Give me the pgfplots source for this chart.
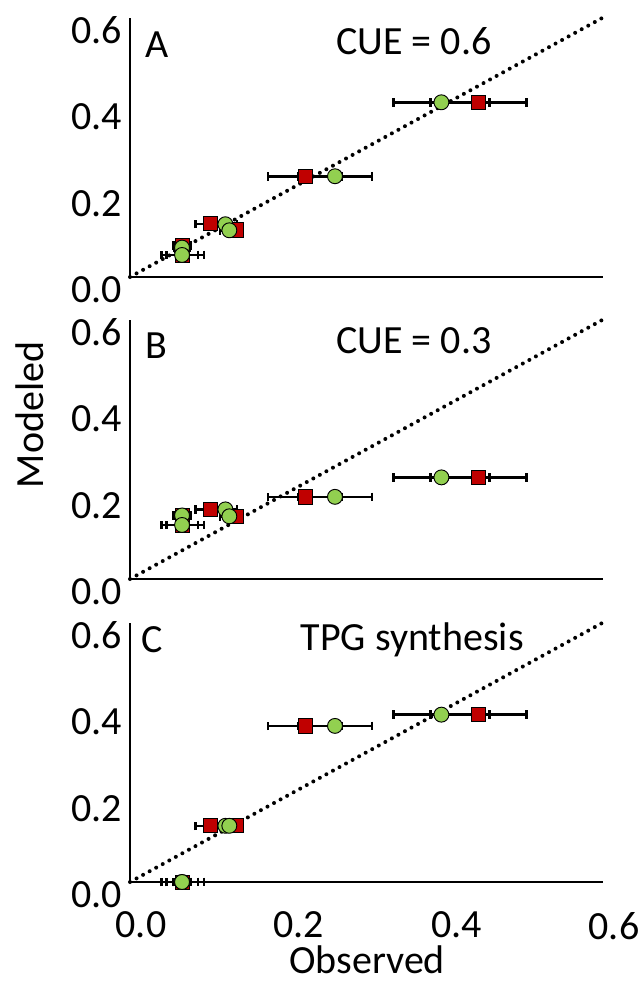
\documentclass[border=0pt]{standalone}
\usepackage{fontspec}
\setmainfont{Carlito}
\usepackage{pgfplots}
\usepackage{pgfplotstable}
\pgfplotsset{compat=1.18}
\definecolor{mred}{HTML}{C00000}
\definecolor{mgreen}{HTML}{92D050}
\newcommand{\bigfont}{\fontsize{30}{36}\selectfont}

% site: red obs (x, err), red modeled y, green obs (x, err), green modeled y
\pgfplotstableread{
xr    exr   yr    xg    exg   yg
0.442 0.061 0.404 0.395 0.061 0.404
0.222 0.047 0.233 0.260 0.047 0.233
0.102 0.019 0.123 0.121 0.015 0.122
0.135 0.008 0.109 0.126 0.012 0.108
0.066 0.011 0.073 0.066 0.010 0.068
0.067 0.027 0.051 0.066 0.020 0.051
}\dataA
\pgfplotstableread{
xr    exr   yr    xg    exg   yg
0.442 0.061 0.235 0.395 0.061 0.235
0.222 0.047 0.190 0.260 0.047 0.190
0.102 0.019 0.161 0.121 0.015 0.161
0.135 0.008 0.145 0.126 0.012 0.145
0.066 0.011 0.147 0.066 0.010 0.147
0.067 0.027 0.125 0.066 0.020 0.125
}\dataB
\pgfplotstableread{
xr    exr   yr    xg    exg   yg
0.442 0.061 0.387 0.395 0.061 0.387
0.222 0.047 0.361 0.260 0.047 0.361
0.102 0.019 0.130 0.121 0.015 0.130
0.135 0.008 0.130 0.126 0.012 0.130
0.066 0.011 0.000 0.066 0.010 0.000
0.067 0.027 0.000 0.066 0.020 0.000
}\dataC

\pgfplotsset{
  panel/.style={
    scale only axis, width=354.75pt, height=194.6pt,
    xmin=0, xmax=0.6, ymin=0, ymax=0.6,
    axis lines=left, axis line style={-, line width=2pt},
    clip=false, major tick length=0,
    ytick={0,0.2,0.4,0.6},
    ticklabel style={font=\bigfont, inner sep=0pt},
    yticklabel style={anchor=east, xshift=-6pt, yshift=-9.5pt},
    xticklabel style={anchor=north, xshift=8.25pt, yshift=-22.3pt},
    /pgf/number format/.cd, fixed, fixed zerofill, precision=1, assume math mode=true,
  },
  ebar/.style={only marks, mark=none,
    error bars/.cd, x dir=both, x explicit, error mark=|,
    error bar style={line width=1.9pt, black},
    error mark options={black, line width=1.9pt, mark size=3.2pt}},
  redmark/.style={only marks, mark=square*, mark size=5.3pt,
    mark options={fill=mred, draw=black, line width=0.6pt}},
  greenmark/.style={only marks, mark=*, mark size=5.6pt,
    mark options={fill=mgreen, draw=black, line width=0.7pt}},
  oneone/.style={black, line width=3pt, line cap=round, dash pattern=on 0pt off 5.6pt},
}

\newcommand{\drawpanel}[1]{%
  \addplot[oneone] coordinates {(0,0) (0.6,0.6)};
  \addplot[ebar] table[x=xr, y=yr, x error=exr] {#1};
  \addplot[ebar] table[x=xg, y=yg, x error=exg] {#1};
  \addplot[redmark] table[x=xr, y=yr] {#1};
  \addplot[greenmark] table[x=xg, y=yg] {#1};
}

\begin{document}
\begin{tikzpicture}
\path[use as bounding box] (0,0) rectangle (482.25pt,-736.5pt);

\begin{axis}[panel, at={(97.5pt,-207.75pt)}, anchor=south west, xtick=\empty]
\drawpanel{\dataA}
\node[font=\bigfont] at (axis cs:0.034,0.537) {A};
\node[font=\bigfont] at (axis cs:0.360,0.545) {CUE = 0.6};
\end{axis}

\begin{axis}[panel, at={(97.5pt,-434.25pt)}, anchor=south west, xtick=\empty]
\drawpanel{\dataB}
\node[font=\bigfont] at (axis cs:0.034,0.540) {B};
\node[font=\bigfont] at (axis cs:0.360,0.550) {CUE = 0.3};
\end{axis}

\begin{axis}[panel, at={(97.5pt,-661.5pt)}, anchor=south west, xtick={0,0.2,0.4,0.6}]
\drawpanel{\dataC}
\node[font=\bigfont] at (axis cs:0.028,0.561) {C};
\node[font=\bigfont] at (axis cs:0.358,0.561) {TPG synthesis};
\end{axis}

\node[font=\bigfont, rotate=90] at (22.5pt,-311.25pt) {Modeled};
\node[font=\bigfont, inner sep=0pt] at (275.25pt,-719.5pt) {Observed};
\end{tikzpicture}
\end{document}
